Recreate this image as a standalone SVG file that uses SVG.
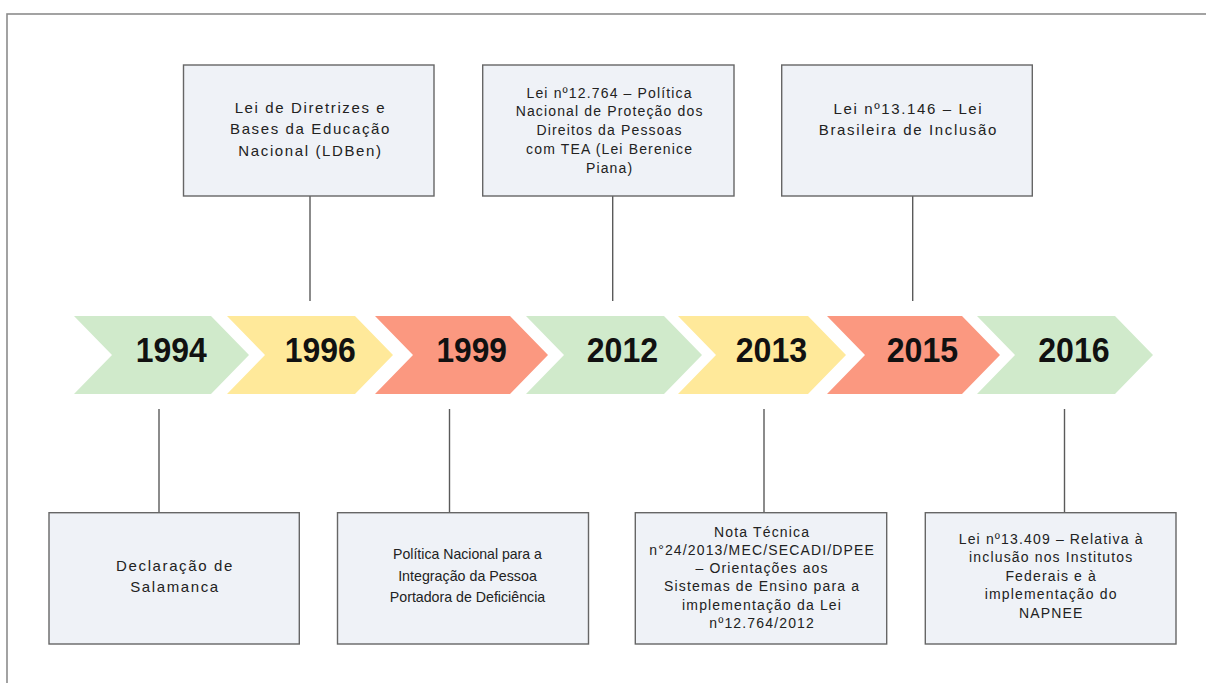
<svg xmlns="http://www.w3.org/2000/svg" width="1206" height="683" viewBox="0 0 1206 683">
<style>
.frame{fill:#ffffff;stroke:#8c8c8c;stroke-width:1.6}
.box{fill:#eff2f7;stroke:#666666;stroke-width:1.4}
.conn{stroke:#5a5a5a;stroke-width:1.4;fill:none}
.t{font-family:"Liberation Sans",Arial,sans-serif;fill:#222222;text-anchor:middle}
.big{font-size:15px;letter-spacing:1.62px}
.small{font-size:14px;letter-spacing:1.15px}
.narrow{font-size:15px}
.year{font-family:"Liberation Sans",Arial,sans-serif;font-weight:bold;font-size:35px;fill:#111111;text-anchor:middle}
.green{fill:#d0eacb}
.yellow{fill:#ffe99a}
.red{fill:#fb9880}
</style>
<rect class="frame" x="7" y="14" width="1230" height="700"/>
<g id="connectors">
<line class="conn" x1="310" y1="196" x2="310" y2="301"/>
<line class="conn" x1="612.7" y1="196" x2="612.7" y2="301"/>
<line class="conn" x1="912.7" y1="196" x2="912.7" y2="301"/>
<line class="conn" x1="159" y1="409" x2="159" y2="512.7"/>
<line class="conn" x1="449.5" y1="409" x2="449.5" y2="512.7"/>
<line class="conn" x1="764" y1="409" x2="764" y2="512.7"/>
<line class="conn" x1="1064.5" y1="409" x2="1064.5" y2="512.7"/>
</g>
<g id="y1994"><path class="green" d="M74,316 H211 L249,355 L211,394 H74 L112,355 Z"/><text class="year" x="171.3" y="361.7" textLength="71" lengthAdjust="spacingAndGlyphs">1994</text></g>
<g id="y1996"><path class="yellow" d="M227,316 H355 L393,355 L355,394 H227 L265,355 Z"/><text class="year" x="320.3" y="361.7" textLength="71" lengthAdjust="spacingAndGlyphs">1996</text></g>
<g id="y1999"><path class="red" d="M375,316 H510 L548,355 L510,394 H375 L413,355 Z"/><text class="year" x="471.7" y="361.7" textLength="70.5" lengthAdjust="spacingAndGlyphs">1999</text></g>
<g id="y2012"><path class="green" d="M526,316 H664 L702,355 L664,394 H526 L564,355 Z"/><text class="year" x="622.5" y="361.7" textLength="71.5" lengthAdjust="spacingAndGlyphs">2012</text></g>
<g id="y2013"><path class="yellow" d="M678,316 H808 L846,355 L808,394 H678 L716,355 Z"/><text class="year" x="771.5" y="361.7" textLength="71.5" lengthAdjust="spacingAndGlyphs">2013</text></g>
<g id="y2015"><path class="red" d="M827,316 H962 L1000,355 L962,394 H827 L865,355 Z"/><text class="year" x="922.5" y="361.7" textLength="71.5" lengthAdjust="spacingAndGlyphs">2015</text></g>
<g id="y2016"><path class="green" d="M977,316 H1115 L1153,355 L1115,394 H977 L1015,355 Z"/><text class="year" x="1074" y="361.7" textLength="71.5" lengthAdjust="spacingAndGlyphs">2016</text></g>
<g id="n1996">
<rect class="box" x="183.5" y="65" width="250.5" height="131"/>
<text class="t big"><tspan x="310.5" y="112.5">Lei de Diretrizes e</tspan><tspan x="310.5" y="134">Bases da Educação</tspan><tspan x="310.5" y="155.5">Nacional (LDBen)</tspan></text>
</g>
<g id="n2012">
<rect class="box" x="482.7" y="65" width="251.3" height="131"/>
<text class="t small"><tspan x="609.6" y="97.7">Lei nº12.764 – Política</tspan><tspan x="609.6" y="116.4">Nacional de Proteção dos</tspan><tspan x="609.6" y="135.1">Direitos da Pessoas</tspan><tspan x="609.6" y="153.8">com TEA (Lei Berenice</tspan><tspan x="609.6" y="172.5">Piana)</tspan></text>
</g>
<g id="n2015">
<rect class="box" x="781.7" y="65" width="250.6" height="131"/>
<text class="t big"><tspan x="908.4" y="113.5">Lei nº13.146 – Lei</tspan><tspan x="908.4" y="134.5">Brasileira de Inclusão</tspan></text>
</g>
<g id="n1994">
<rect class="box" x="49" y="512.7" width="250.3" height="131.3"/>
<text class="t big"><tspan x="175" y="571">Declaração de</tspan><tspan x="175" y="592">Salamanca</tspan></text>
</g>
<g id="n1999">
<rect class="box" x="337.5" y="512.7" width="251" height="131.3"/>
<text class="t narrow"><tspan x="467.5" y="558.5" textLength="148.8" lengthAdjust="spacingAndGlyphs">Política Nacional para a</tspan><tspan x="467.5" y="580.5" textLength="138.7" lengthAdjust="spacingAndGlyphs">Integração da Pessoa</tspan><tspan x="467.5" y="602" textLength="155.4" lengthAdjust="spacingAndGlyphs">Portadora de Deficiência</tspan></text>
</g>
<g id="n2013">
<rect class="box" x="635.3" y="512.7" width="251.4" height="131.3"/>
<text class="t small"><tspan x="762.1" y="536.8">Nota Técnica</tspan><tspan x="762.1" y="555">n°24/2013/MEC/SECADI/DPEE</tspan><tspan x="762.1" y="573.2">– Orientações aos</tspan><tspan x="762.1" y="591.4">Sistemas de Ensino para a</tspan><tspan x="762.1" y="609.6">implementação da Lei</tspan><tspan x="762.1" y="627.8">nº12.764/2012</tspan></text>
</g>
<g id="n2016">
<rect class="box" x="925.3" y="512.7" width="250.7" height="131.3"/>
<text class="t small"><tspan x="1051.2" y="544">Lei nº13.409 – Relativa à</tspan><tspan x="1051.2" y="562.4">inclusão nos Institutos</tspan><tspan x="1051.2" y="580.8">Federais e à</tspan><tspan x="1051.2" y="599.2">implementação do</tspan><tspan x="1051.2" y="617.6">NAPNEE</tspan></text>
</g>
</svg>
